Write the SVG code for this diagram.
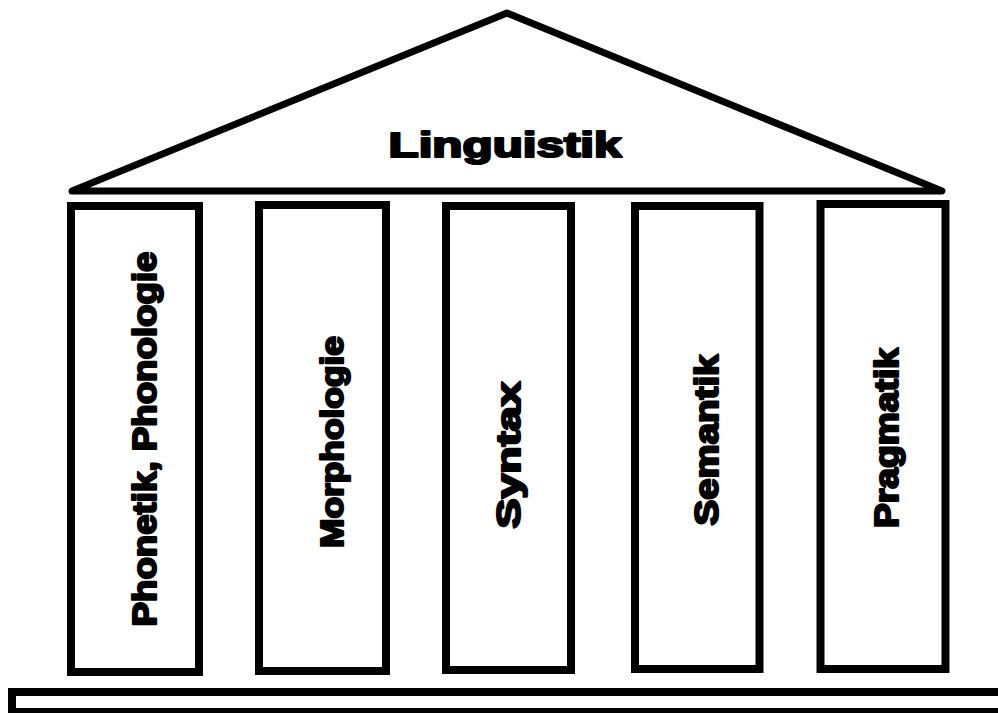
<svg xmlns="http://www.w3.org/2000/svg" width="998" height="713" viewBox="0 0 998 713">
<style>
.frame{fill:none;stroke:#000;stroke-width:8}
.roof{fill:none;stroke:#000;stroke-width:7;stroke-linejoin:round;stroke-linecap:round}
.lbl{font-family:"Liberation Sans",Arial,sans-serif;font-weight:bold;fill:#000;stroke:#000;stroke-width:2.2;stroke-linejoin:round;text-anchor:middle}
</style>
<rect width="998" height="713" fill="#fff"/>
<g id="roof">
<polygon class="roof" points="72,191 507,13 942,191"/>
<text class="lbl" x="505" y="157" font-size="35" textLength="233" lengthAdjust="spacingAndGlyphs">Linguistik</text>
</g>
<g id="pillar1">
<rect class="frame" x="71" y="206" width="128" height="466"/>
<text class="lbl" transform="translate(156,439) rotate(-90)" font-size="33" textLength="375" lengthAdjust="spacingAndGlyphs">Phonetik, Phonologie</text>
</g>
<g id="pillar2">
<rect class="frame" x="259" y="205" width="127" height="466"/>
<text class="lbl" transform="translate(343,442) rotate(-90)" font-size="32" textLength="212" lengthAdjust="spacingAndGlyphs">Morphologie</text>
</g>
<g id="pillar3">
<rect class="frame" x="446" y="206" width="125" height="464"/>
<text class="lbl" transform="translate(520,455) rotate(-90)" font-size="33" textLength="147" lengthAdjust="spacingAndGlyphs">Syntax</text>
</g>
<g id="pillar4">
<rect class="frame" x="635" y="206" width="124.5" height="463"/>
<text class="lbl" transform="translate(718,440) rotate(-90)" font-size="33" textLength="171" lengthAdjust="spacingAndGlyphs">Semantik</text>
</g>
<g id="pillar5">
<rect class="frame" x="820.5" y="204" width="125" height="465"/>
<text class="lbl" transform="translate(898,438) rotate(-90)" font-size="33" textLength="180" lengthAdjust="spacingAndGlyphs">Pragmatik</text>
</g>
<g id="base">
<rect class="frame" x="12" y="692" width="1000" height="20"/>
</g>
<g id="connectors"></g>
</svg>
